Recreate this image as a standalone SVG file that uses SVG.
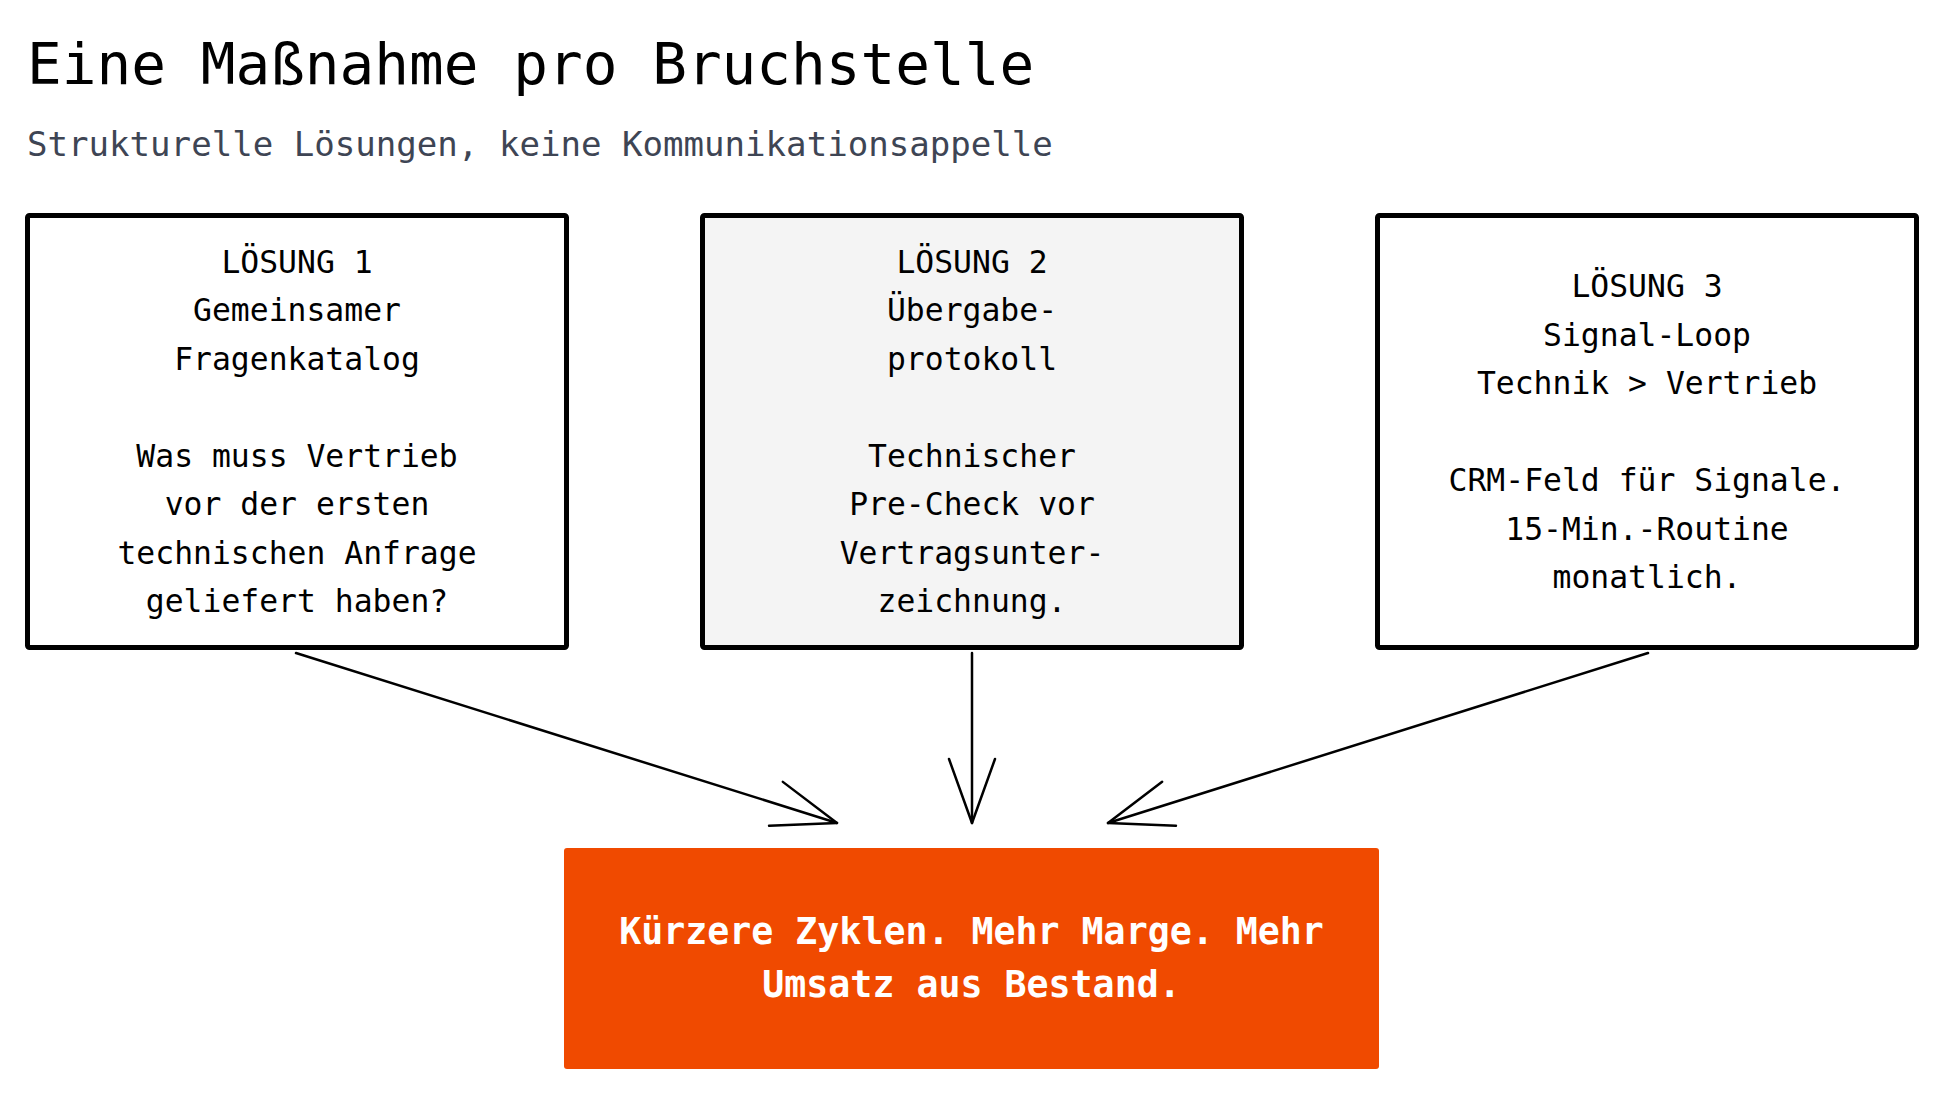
<svg xmlns="http://www.w3.org/2000/svg" width="1944" height="1093" viewBox="0 0 1944 1093">
<defs>
<style>
text{font-family:"DejaVu Sans Mono","Liberation Mono",monospace}
.title{font-size:57.7px;fill:#000}
.sub{font-size:34.1px;fill:#3e4554}
.box{fill:#ffffff;stroke:#000;stroke-width:5}
.box2{fill:#f4f4f4;stroke:#000;stroke-width:5}
.lbl{font-size:31.4px;fill:#000;text-anchor:middle}
.res{fill:#f04a00}
.rlbl{font-size:36.6px;fill:#fff;font-weight:bold;text-anchor:middle}
.conn{fill:none;stroke:#000;stroke-width:2.5;stroke-linecap:round}
</style>
<marker id="vhead" markerUnits="userSpaceOnUse" orient="auto" markerWidth="80" markerHeight="60" refX="0" refY="0" viewBox="-70 -30 80 60" overflow="visible">
<path d="M-64,-23 L0,0 L-64,23" fill="none" stroke="#000" stroke-width="2.5" stroke-linecap="round" stroke-linejoin="round"/>
</marker>
</defs>
<rect width="1944" height="1093" fill="#fff"/>
<text class="title" x="27" y="84">Eine Maßnahme pro Bruchstelle</text>
<text class="sub" x="27" y="156">Strukturelle Lösungen, keine Kommunikationsappelle</text>

<g id="connectors">
<line class="conn" x1="296" y1="653" x2="837" y2="823" marker-end="url(#vhead)"/>
<line class="conn" x1="972" y1="653" x2="972" y2="823" marker-end="url(#vhead)"/>
<line class="conn" x1="1648" y1="653" x2="1108" y2="823" marker-end="url(#vhead)"/>
</g>

<g id="loesung1">
<rect class="box" x="27.5" y="215.5" width="539" height="432" rx="2"/>
<text class="lbl" x="297" y="272.5">LÖSUNG 1</text>
<text class="lbl" x="297" y="321">Gemeinsamer</text>
<text class="lbl" x="297" y="369.5">Fragenkatalog</text>
<text class="lbl" x="297" y="466.5">Was muss Vertrieb</text>
<text class="lbl" x="297" y="515">vor der ersten</text>
<text class="lbl" x="297" y="563.5">technischen Anfrage</text>
<text class="lbl" x="297" y="612">geliefert haben?</text>
</g>

<g id="loesung2">
<rect class="box2" x="702.5" y="215.5" width="539" height="432" rx="2"/>
<text class="lbl" x="972" y="272.5">LÖSUNG 2</text>
<text class="lbl" x="972" y="321">Übergabe-</text>
<text class="lbl" x="972" y="369.5">protokoll</text>
<text class="lbl" x="972" y="466.5">Technischer</text>
<text class="lbl" x="972" y="515">Pre-Check vor</text>
<text class="lbl" x="972" y="563.5">Vertragsunter-</text>
<text class="lbl" x="972" y="612">zeichnung.</text>
</g>

<g id="loesung3">
<rect class="box" x="1377.5" y="215.5" width="539" height="432" rx="2"/>
<text class="lbl" x="1647" y="297">LÖSUNG 3</text>
<text class="lbl" x="1647" y="345.5">Signal-Loop</text>
<text class="lbl" x="1647" y="394">Technik &gt; Vertrieb</text>
<text class="lbl" x="1647" y="491">CRM-Feld für Signale.</text>
<text class="lbl" x="1647" y="539.5">15-Min.-Routine</text>
<text class="lbl" x="1647" y="588">monatlich.</text>
</g>

<g id="ergebnis">
<rect class="res" x="564" y="848" width="815" height="221" rx="3"/>
<text class="rlbl" x="971.5" y="944">Kürzere Zyklen. Mehr Marge. Mehr</text>
<text class="rlbl" x="971.5" y="997">Umsatz aus Bestand.</text>
</g>
</svg>
